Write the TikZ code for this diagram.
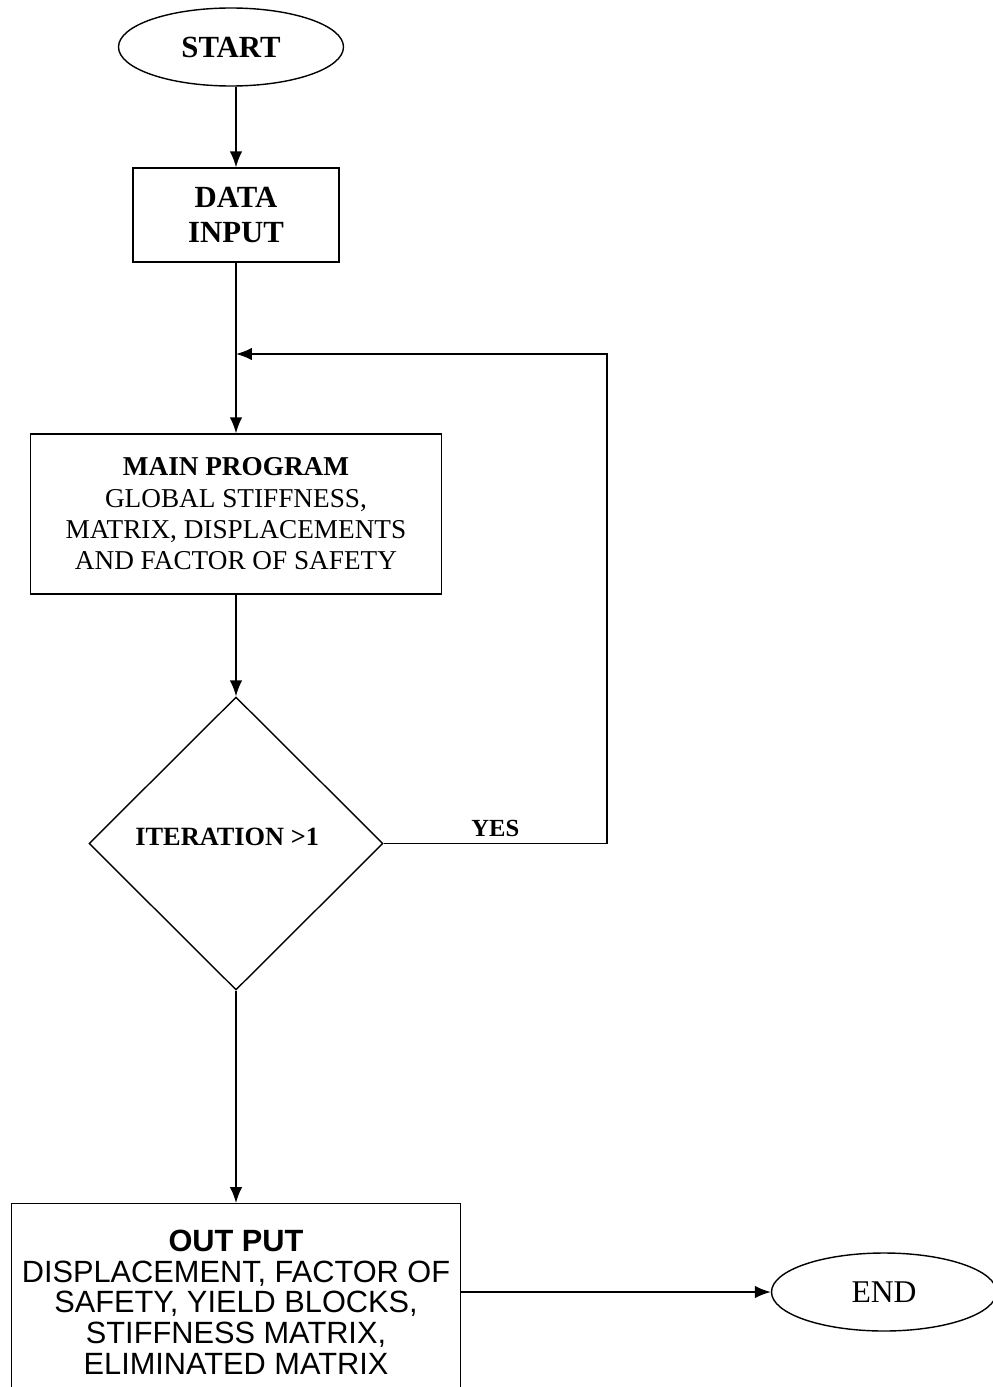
\documentclass[tikz,border=0pt]{standalone}
\usepackage{fontspec}
\setmainfont{Liberation Serif}
\newfontfamily\arialfont{Liberation Sans}
\usetikzlibrary{shapes.geometric, arrows.meta}

\begin{document}
\begin{tikzpicture}[>={Latex[length=9pt,width=7pt]}, line width=0.8pt,
  terminal/.style={draw, ellipse, minimum width=4.5cm, minimum height=1.56cm, inner sep=0pt},
  procbox/.style={draw, rectangle, align=center, inner sep=0pt},
  decision/.style={draw, diamond, minimum width=5.88cm, minimum height=5.86cm, inner sep=0pt}]
  % Ramme
  \useasboundingbox (0,0) rectangle (19.86,-27.74);
  \clip (0,0) rectangle (19.86,-27.74);
  % Start og datainput
  \node[terminal, font=\fontsize{17.5}{20}\selectfont\bfseries] (start) at (4.62,-0.94) {START};
  \node[procbox, minimum width=4.12cm, minimum height=1.88cm, font=\fontsize{17.5}{19.5}\selectfont\bfseries] (data) at (4.72,-4.3) {DATA\\INPUT};
  % Hovedprogram
  \node[procbox, minimum width=8.22cm, minimum height=3.2cm, font=\fontsize{15.5}{17.8}\selectfont] (main) at (4.72,-10.28)
    {{\bfseries MAIN PROGRAM}\\GLOBAL STIFFNESS,\\MATRIX, DISPLACEMENTS\\AND FACTOR OF SAFETY};
  % Beslutning
  \node[decision, font=\fontsize{15}{17}\selectfont\bfseries] (dec) at (4.72,-16.87) {\hspace*{-10pt}\raisebox{8pt}{ITERATION >1}};
  % Utdata og slutt
  \node[procbox, anchor=north, minimum width=8.98cm, minimum height=3.94cm, font=\arialfont\fontsize{17.5}{17.4}\selectfont] (out) at (4.72,-24.06)
    {{\bfseries OUT PUT}\\DISPLACEMENT, FACTOR OF\\SAFETY, YIELD BLOCKS,\\STIFFNESS MATRIX,\\ELIMINATED MATRIX};
  \node[terminal, font=\fontsize{18}{20}\selectfont] (end) at (17.68,-25.84) {END};
  % Piler
  \coordinate (back) at (4.72,-7.08);
  \coordinate (loopx) at (12.14,-7.08);
  \draw[->] (start.south -| data) -- (data);
  \draw (data) -- (back);
  \draw[->] (back) -- (main);
  \draw[->] (main) -- (dec);
  \draw[->] (dec) -- (out);
  \draw[->] (dec.east) -- node[above, font=\fontsize{14}{16}\selectfont\bfseries] {YES} (loopx |- dec.east) -- (loopx) -- (back);
  \draw[->] (out.east |- end.west) -- (end.west);
\end{tikzpicture}
\end{document}
